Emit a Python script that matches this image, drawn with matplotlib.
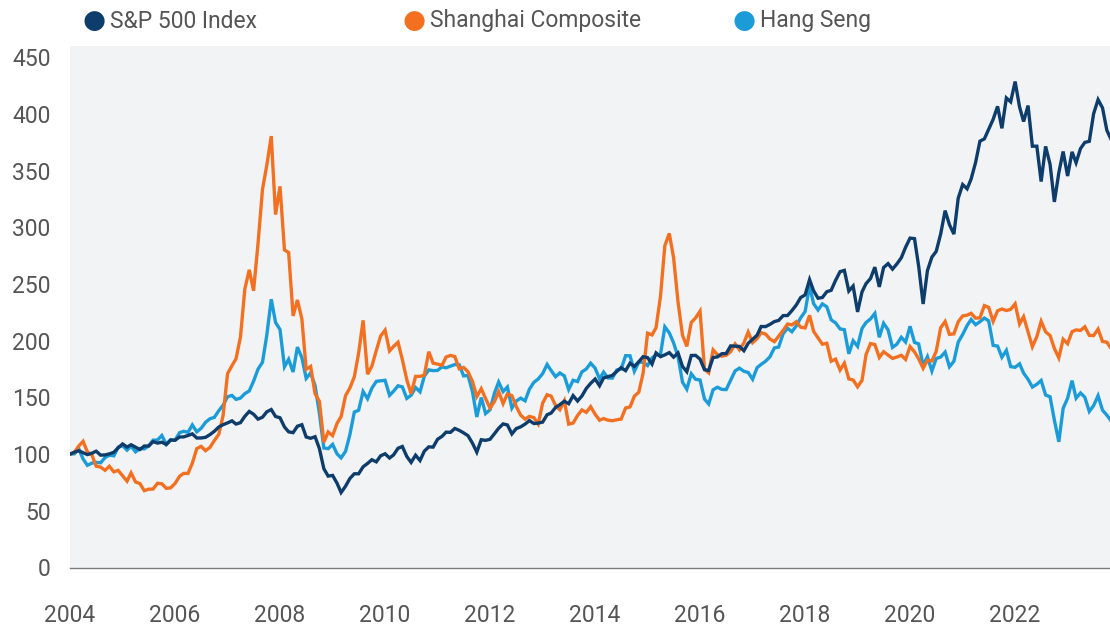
import matplotlib
matplotlib.use("Agg")
import matplotlib.pyplot as plt
import matplotlib.dates as mdates
import numpy as np
import pandas as pd

plt.rcParams["font.family"] = ["Roboto", "DejaVu Sans"]

# month-end index levels, first entry = starting level (rebased to 100)
sp500 = [1111.92,
         1131.13, 1144.94, 1126.21, 1107.30, 1120.68, 1140.84, 1101.72, 1104.24, 1114.58, 1130.20, 1173.82, 1211.92,
         1181.27, 1203.60, 1180.59, 1156.85, 1191.50, 1191.33, 1234.18, 1220.33, 1228.81, 1207.01, 1249.48, 1248.29,
         1280.08, 1280.66, 1294.83, 1310.61, 1270.09, 1270.20, 1276.66, 1303.82, 1335.85, 1377.94, 1400.63, 1418.30,
         1438.24, 1406.82, 1420.86, 1482.37, 1530.62, 1503.35, 1455.27, 1473.99, 1526.75, 1549.38, 1481.14, 1468.36,
         1378.55, 1330.63, 1322.70, 1385.59, 1400.38, 1280.00, 1267.38, 1282.83, 1166.36, 968.75, 896.24, 903.25,
         825.88, 735.09, 797.87, 872.81, 919.14, 919.32, 987.48, 1020.62, 1057.08, 1036.19, 1095.63, 1115.10,
         1073.87, 1104.49, 1169.43, 1186.69, 1089.41, 1030.71, 1101.60, 1049.33, 1141.20, 1183.26, 1180.55, 1257.64,
         1286.12, 1327.22, 1325.83, 1363.61, 1345.20, 1320.64, 1292.28, 1218.89, 1131.42, 1253.30, 1246.96, 1257.60,
         1312.41, 1365.68, 1408.47, 1397.91, 1310.33, 1362.16, 1379.32, 1406.58, 1440.67, 1412.16, 1416.18, 1426.19,
         1498.11, 1514.68, 1569.19, 1597.57, 1630.74, 1606.28, 1685.73, 1632.97, 1681.55, 1756.54, 1805.81, 1848.36,
         1782.59, 1859.45, 1872.34, 1883.95, 1923.57, 1960.23, 1930.67, 2003.37, 1972.29, 2018.05, 2067.56, 2058.90,
         1994.99, 2104.50, 2067.89, 2085.51, 2107.39, 2063.11, 2103.84, 1972.18, 1920.03, 2079.36, 2080.41, 2043.94,
         1940.24, 1932.23, 2059.74, 2065.30, 2096.95, 2098.86, 2173.60, 2170.95, 2168.27, 2126.15, 2198.81, 2238.83,
         2278.87, 2363.64, 2362.72, 2384.20, 2411.80, 2423.41, 2470.30, 2471.65, 2519.36, 2575.26, 2647.58, 2673.61,
         2823.81, 2713.83, 2640.87, 2648.05, 2705.27, 2718.37, 2816.29, 2901.52, 2913.98, 2711.74, 2760.17, 2506.85,
         2704.10, 2784.49, 2834.40, 2945.83, 2752.06, 2941.76, 2980.38, 2926.46, 2976.74, 3037.56, 3140.98, 3230.78,
         3225.52, 2954.22, 2584.59, 2912.43, 3044.31, 3100.29, 3271.12, 3500.31, 3363.00, 3269.96, 3621.63, 3756.07,
         3714.24, 3811.15, 3972.89, 4181.17, 4204.11, 4297.50, 4395.26, 4522.68, 4307.54, 4605.38, 4567.00, 4766.18,
         4515.55, 4373.94, 4530.41, 4131.93, 4132.15, 3785.38, 4130.29, 3955.00, 3585.62, 3871.98, 4080.11, 3839.50,
         4076.60, 3970.15, 4109.31, 4169.48, 4179.83, 4450.38, 4588.96, 4507.66, 4288.05, 4193.80]

shanghai = [1565.0,
            1590.73, 1675.07, 1741.62, 1595.59, 1555.91, 1399.16, 1386.20, 1342.06, 1396.70, 1320.54, 1340.77, 1266.50,
            1191.82, 1306.00, 1181.24, 1159.15, 1060.74, 1080.94, 1083.03, 1162.80, 1155.61, 1092.82, 1099.26, 1161.06,
            1258.05, 1299.03, 1298.30, 1440.22, 1641.30, 1672.21, 1612.73, 1658.64, 1752.42, 1837.99, 2099.29, 2675.47,
            2786.34, 2881.07, 3183.98, 3841.27, 4109.65, 3820.70, 4471.03, 5218.82, 5552.30, 5954.77, 4871.78, 5261.56,
            4383.39, 4348.54, 3472.71, 3693.11, 3433.35, 2736.10, 2775.72, 2397.37, 2293.78, 1728.79, 1871.16, 1820.81,
            1990.66, 2082.85, 2373.21, 2477.57, 2632.93, 2959.36, 3412.06, 2667.75, 2779.43, 2995.85, 3195.30, 3277.14,
            2989.29, 3051.94, 3109.10, 2870.61, 2592.15, 2398.37, 2637.50, 2638.80, 2655.66, 2978.84, 2820.18, 2808.08,
            2790.69, 2905.05, 2928.11, 2911.51, 2743.47, 2762.08, 2701.73, 2567.34, 2359.22, 2468.25, 2333.41, 2199.42,
            2292.61, 2428.49, 2262.79, 2396.32, 2372.23, 2225.43, 2103.63, 2047.52, 2086.17, 2068.88, 1980.12, 2269.13,
            2385.42, 2365.59, 2236.62, 2177.91, 2300.59, 1979.21, 1993.80, 2098.38, 2174.67, 2141.61, 2220.50, 2115.98,
            2033.08, 2056.30, 2033.31, 2026.36, 2039.21, 2048.33, 2201.56, 2217.20, 2363.87, 2420.18, 2682.83, 3234.68,
            3210.36, 3310.30, 3747.90, 4441.66, 4611.74, 4277.22, 3663.73, 3205.99, 3052.78, 3382.56, 3445.40, 3539.18,
            2737.60, 2687.98, 3003.92, 2938.32, 2916.62, 2929.61, 2979.34, 3085.49, 3004.70, 3100.49, 3250.03, 3103.64,
            3159.17, 3241.73, 3222.51, 3154.66, 3117.18, 3192.43, 3273.03, 3360.81, 3348.94, 3393.34, 3317.19, 3307.17,
            3480.83, 3259.41, 3168.90, 3082.23, 3095.47, 2847.42, 2876.40, 2725.25, 2821.35, 2602.78, 2588.19, 2493.90,
            2584.57, 2940.95, 3090.76, 3078.34, 2898.70, 2978.88, 2932.51, 2886.24, 2905.19, 2929.06, 2871.98, 3050.12,
            2976.53, 2880.30, 2750.30, 2860.08, 2852.35, 2984.67, 3310.01, 3395.68, 3218.05, 3224.53, 3391.76, 3473.07,
            3483.07, 3509.08, 3441.91, 3446.86, 3615.48, 3591.20, 3397.36, 3543.94, 3568.17, 3547.34, 3563.89, 3639.78,
            3361.44, 3462.31, 3252.20, 3047.06, 3186.43, 3398.62, 3253.24, 3202.14, 3024.39, 2893.48, 3151.34, 3089.26,
            3255.67, 3279.61, 3272.86, 3323.27, 3204.56, 3202.06, 3291.04, 3119.88, 3110.48, 3018.77]

hang_seng = [13250.0,
             13289.37, 13907.03, 12681.67, 11942.96, 12198.24, 12285.75, 12238.03, 12850.28, 13120.03, 13054.66, 14060.00, 14230.14,
             13721.69, 14195.35, 13516.88, 13908.97, 13867.07, 14201.06, 14880.98, 14903.55, 15428.52, 14386.37, 14937.14, 14876.43,
             15753.14, 15918.48, 15805.04, 16661.30, 15857.89, 16267.62, 16971.34, 17392.27, 17543.05, 18324.35, 18960.48, 19964.72,
             20106.42, 19651.51, 19800.93, 20318.98, 20634.47, 21772.73, 23184.94, 23984.14, 27142.47, 31352.58, 28643.61, 27812.65,
             23455.74, 24331.67, 22849.20, 25755.35, 24533.12, 22102.01, 22731.10, 21261.89, 18016.21, 13968.67, 13888.24, 14387.48,
             13278.21, 12811.57, 13576.02, 15520.99, 18171.00, 18378.73, 20573.33, 19724.19, 20955.25, 21752.87, 21821.50, 21872.50,
             20121.99, 20608.70, 21239.35, 21108.59, 19765.19, 20128.99, 21029.81, 20536.49, 22358.17, 23096.32, 23007.99, 23035.45,
             23447.34, 23338.02, 23527.52, 23720.81, 23684.13, 22398.10, 22440.25, 20534.85, 17592.41, 19864.87, 17989.35, 18434.39,
             20390.49, 21680.08, 20555.58, 21094.21, 18629.52, 19441.46, 19796.81, 19482.57, 20840.38, 21641.82, 22030.39, 22656.92,
             23729.53, 23020.27, 22299.63, 22737.01, 22392.16, 20803.29, 21883.66, 21731.37, 22859.86, 23206.37, 23881.29, 23306.39,
             22035.42, 22836.96, 22151.06, 22133.97, 23081.65, 23190.72, 24756.85, 24742.06, 22932.98, 23998.06, 23987.45, 23605.04,
             24507.05, 24823.29, 24900.89, 28133.00, 27424.19, 26250.03, 24636.28, 21670.58, 20846.30, 22640.04, 21996.42, 21914.40,
             19683.11, 19111.93, 20776.70, 21067.05, 20815.09, 20794.37, 21891.37, 22976.88, 23297.15, 22934.54, 22789.77, 22000.56,
             23360.78, 23740.73, 24111.59, 24615.13, 25660.65, 25764.58, 27323.99, 27970.30, 27554.30, 28245.54, 29177.35, 29919.15,
             32887.27, 30844.72, 30093.38, 30808.45, 30468.56, 28955.11, 28583.01, 27888.55, 27788.52, 24979.69, 26506.75, 25845.70,
             27942.47, 28633.18, 29051.36, 29699.11, 26901.09, 28542.62, 27777.75, 25724.73, 26092.27, 26906.72, 26346.49, 28189.75,
             26312.63, 26129.93, 23603.48, 24643.59, 22961.47, 24427.19, 24595.35, 25177.05, 23459.05, 24107.42, 26341.49, 27231.13,
             28283.71, 28980.21, 28378.35, 28724.88, 29151.80, 28827.95, 25961.03, 25878.99, 24575.64, 25377.24, 23475.26, 23397.67,
             23802.26, 22713.02, 21996.85, 21089.39, 21415.20, 21859.79, 20156.51, 19954.39, 17222.83, 14687.02, 18597.23, 19781.41,
             21842.33, 19785.94, 20400.11, 19894.57, 18234.27, 18916.43, 20078.94, 18382.06, 17809.66, 17112.48]

names = ["S&P 500 Index", "Shanghai Composite", "Hang Seng"]
colors = ["#0e3d6b", "#f37021", "#1b9cd8"]

months = pd.date_range("2004-01-01", periods=len(sp500), freq="MS")

fig = plt.figure(figsize=(11.1, 6.26), dpi=100)
ax = fig.add_axes([70 / 1110, 58.5 / 626, 1040 / 1110, 521.5 / 626])
ax.set_facecolor("#f2f3f5")

# draw the blue and orange first so the S&P sits on top
for series, color in [(hang_seng, colors[2]), (shanghai, colors[1]), (sp500, colors[0])]:
    vals = np.array(series)
    ax.plot(months, vals / vals[0] * 100, color=color, lw=2.4, solid_joinstyle="miter")

ax.set_ylim(0, 460)
ax.set_yticks(range(0, 451, 50))
ax.set_xlim(pd.Timestamp("2004-01-01"), pd.Timestamp("2023-10-23"))
ax.xaxis.set_major_locator(mdates.YearLocator(2))
ax.xaxis.set_major_formatter(mdates.DateFormatter("%Y"))

for s in ["top", "right", "left"]:
    ax.spines[s].set_visible(False)
ax.spines["bottom"].set_color("#7a7a7a")
ax.spines["bottom"].set_linewidth(1.0)

ax.tick_params(axis="both", length=0, labelsize=16.5, labelcolor="#555555")
ax.tick_params(axis="x", pad=26)
ax.tick_params(axis="y", pad=14)

# legend row at the top
leg_x = [94, 414, 744]
for x, name, color in zip(leg_x, names, colors):
    fig.text(x / 1110, 1 - 21 / 626, "\u25cf", color=color, fontsize=19,
             ha="center", va="center", family="DejaVu Sans")
    fig.text((x + 16) / 1110, 1 - 21 / 626, name, color="#555555", fontsize=16.5,
             ha="left", va="center")

fig.savefig("out.png", dpi=100)
